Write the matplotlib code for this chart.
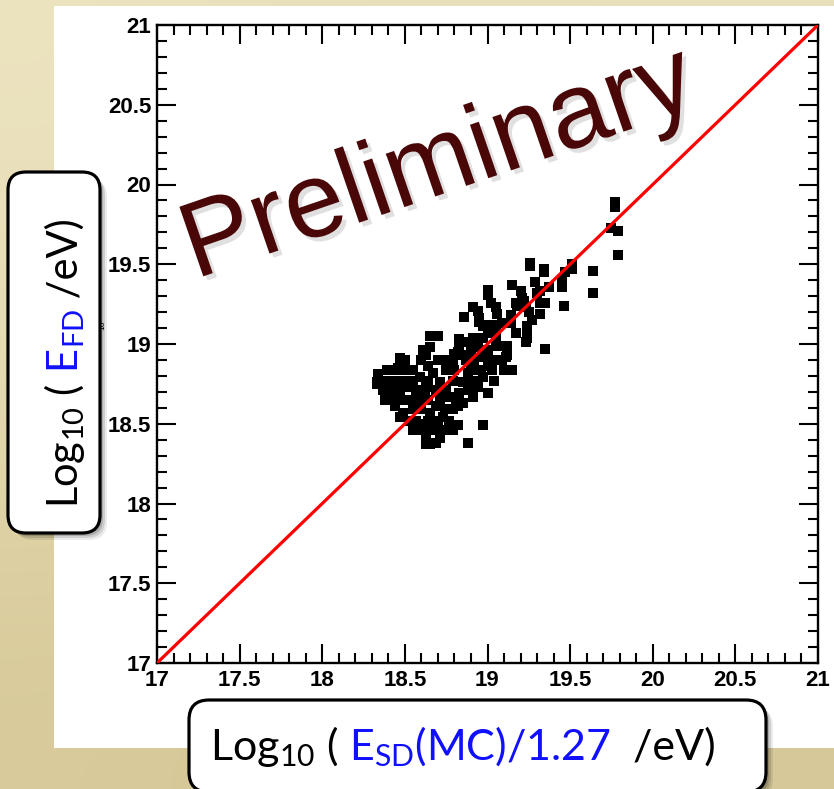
import matplotlib
matplotlib.use('Agg')
import matplotlib.pyplot as plt
import numpy as np
import matplotlib.patheffects as pe
from matplotlib.patches import FancyBboxPatch, Rectangle
from matplotlib.transforms import IdentityTransform
from matplotlib.ticker import MultipleLocator, FuncFormatter

plt.rcParams['font.family'] = ['Liberation Sans', 'DejaVu Sans']
plt.rcParams['font.weight'] = 'bold'
plt.rcParams['mathtext.fontset'] = 'custom'
plt.rcParams['mathtext.rm'] = 'Lato'
plt.rcParams['mathtext.it'] = 'Lato:italic'
plt.rcParams['mathtext.bf'] = 'Lato:bold'
plt.rcParams['mathtext.default'] = 'regular'

# log10 energies: SD (MC, scaled by 1/1.27) vs FD
sd_energy = [
    # upper tail
    19.77, 19.77, 19.75, 19.79, 19.79, 19.64, 19.64, 19.51, 19.51, 19.47,
    19.45, 19.45, 19.46, 19.26, 19.26, 19.34, 19.34, 19.29, 19.37, 19.32,
    19.35, 19.15, 19.20, 19.21, 19.17, 19.23, 19.25, 19.32, 19.27, 19.24,
    19.17, 19.23, 19.35, 19.12, 19.12, 19.06, 19.00, 19.00, 19.02, 19.05,
    19.06, 19.14, 18.91, 18.94, 18.86, 18.95, 18.97, 19.03, 19.00, 19.09,
    19.14, 19.05, 18.91, 18.88, 18.97, 18.83, 18.80, 18.85, 18.75, 18.78,
    18.94, 18.97, 19.00, 18.91,
    19.22, 19.18, 19.30, 19.32, 19.24, 19.24, 19.05, 18.95, 18.99,
    # core and lower edge
    18.65, 18.70, 18.65, 18.63, 18.47, 18.47, 18.39, 18.34, 18.33, 18.37,
    19.11, 18.97, 18.88, 18.82, 18.79, 18.63, 18.69, 19.00, 19.00, 18.97,
    18.94, 18.91,
    18.64, 18.46, 18.34, 18.33, 18.39, 18.38, 18.43, 18.44, 18.47, 18.53,
    18.55, 18.63, 18.65, 18.49, 18.52, 18.59, 18.57, 18.51, 18.59, 18.63,
    18.67, 18.71, 18.75, 18.79, 18.82, 18.77, 18.69, 18.65, 18.73, 18.77,
    18.78, 18.82, 18.55, 18.49, 18.61, 18.70, 18.85, 18.83, 18.85, 18.88,
    18.83, 18.94, 19.05,
    18.61, 18.90, 19.00,
    18.50, 18.60, 18.70, 18.87, 18.92, 19.03, 19.09,
    18.44, 18.50, 18.55, 18.80, 18.90, 18.96, 19.03, 19.10, 19.15,
    18.38, 18.43, 18.55, 18.64, 18.79, 18.91, 19.04,
    18.42, 18.47, 18.62, 18.69, 18.75, 18.88,
    18.45, 18.55, 18.64, 18.71, 18.81,
    18.60, 18.74, 18.79,
    18.57, 18.64, 18.68,
    18.60, 18.67, 18.72,
    18.63, 18.71,
]
fd_energy = [
    19.89, 19.86, 19.73, 19.71, 19.56, 19.46, 19.32, 19.50, 19.47, 19.45,
    19.40, 19.36, 19.24, 19.51, 19.49, 19.47, 19.45, 19.39, 19.36, 19.33,
    19.26, 19.37, 19.33, 19.29, 19.26, 19.23, 19.20, 19.19, 19.15, 19.11,
    19.07, 19.01, 18.97, 18.99, 18.93, 18.99, 19.34, 19.31, 19.26, 19.23,
    19.19, 19.18, 19.23, 19.21, 19.17, 19.16, 19.11, 19.12, 19.07, 19.13,
    19.13, 19.09, 19.04, 19.01, 19.04, 18.97, 18.94, 18.93, 18.90, 18.88,
    18.98, 18.92, 18.87, 18.88,
    19.27, 19.24, 19.32, 19.26, 19.10, 19.04, 19.01, 19.14, 19.12,
    19.05, 19.05, 18.98, 18.93, 18.91, 18.88, 18.84, 18.80, 18.75, 18.71,
    18.92, 18.49, 18.38, 18.49, 18.46, 18.37, 18.38, 18.69, 18.86, 18.79,
    18.73, 18.67,
    18.86, 18.85, 18.81, 18.76, 18.71, 18.65, 18.67, 18.61, 18.54, 18.52,
    18.46, 18.44, 18.37, 18.77, 18.73, 18.79, 18.71, 18.65, 18.65, 18.73,
    18.82, 18.76, 18.84, 18.90, 18.95, 18.67, 18.61, 18.57, 18.54, 18.52,
    18.46, 18.61, 18.59, 18.57, 18.50, 18.48, 18.63, 18.69, 18.76, 18.82,
    19.03, 19.03, 19.03,
    18.96, 18.96, 18.96,
    18.90, 18.90, 18.90, 18.90, 18.90, 18.90, 18.90,
    18.84, 18.84, 18.84, 18.84, 18.84, 18.84, 18.84, 18.84, 18.84,
    18.77, 18.77, 18.77, 18.77, 18.77, 18.77, 18.77,
    18.71, 18.71, 18.71, 18.71, 18.71, 18.71,
    18.65, 18.65, 18.65, 18.65, 18.65,
    18.59, 18.59, 18.59,
    18.52, 18.52, 18.52,
    18.46, 18.46, 18.46,
    18.41, 18.41,
]
diag = [17, 21]
ticks_major = 0.5
ticks_minor = 0.1

W, H = 834, 789
fig = plt.figure(figsize=(W / 100, H / 100), dpi=100)

# parchment background
bg = fig.add_axes([0, 0, 1, 1], zorder=-10)
parchment = np.array([
    [[236, 227, 192], [232, 222, 185], [234, 224, 188]],
    [[228, 216, 175], [226, 214, 172], [230, 219, 180]],
    [[216, 202, 154], [210, 195, 146], [214, 200, 152]],
]) / 255
bg.imshow(parchment, aspect='auto', interpolation='bicubic', extent=[0, 1, 0, 1])
bg.axis('off')

# white slide panel
fig.add_artist(Rectangle((54, H - 748), 780, 742, transform=IdentityTransform(),
                         facecolor='white', edgecolor='none', zorder=-5))

ax = fig.add_axes([157 / W, 1 - 663 / H, (818 - 157) / W, (663 - 25) / H])
ax.scatter(sd_energy, fd_energy, marker='s', s=46, c='black', linewidths=0, zorder=2)
ax.plot(diag, diag, color='red', lw=2.3, zorder=3)
ax.set_xlim(17, 21)
ax.set_ylim(17, 21)

for axis in (ax.xaxis, ax.yaxis):
    axis.set_major_locator(MultipleLocator(ticks_major))
    axis.set_minor_locator(MultipleLocator(ticks_minor))
    axis.set_major_formatter(FuncFormatter(lambda v, _: f'{v:g}'))
ax.tick_params(which='both', direction='in', top=True, right=True, width=1.5,
               labelsize=16, colors='black')
ax.tick_params(which='major', length=14)
ax.tick_params(which='minor', length=7.5)
ax.tick_params(axis='x', pad=5)
ax.tick_params(axis='y', pad=4)
for sp in ax.spines.values():
    sp.set_linewidth(1.7)

# leftover of the hidden axis title
fig.text(103, H - 325, '10', transform=IdentityTransform(), rotation=90,
         fontsize=6, fontweight='normal', ha='center', va='center')

ax.text(0.440, 0.738, 'Preliminary', transform=ax.transAxes, rotation=19,
        rotation_mode='anchor', ha='center', va='baseline', fontsize=77,
        fontweight='normal', color='#4a0707', zorder=6,
        path_effects=[pe.SimplePatchShadow(offset=(3, -3), shadow_rgbFace='black', alpha=0.12),
                      pe.Normal()])


def rounded_box(x0, y0, w, h, r):
    for k, a in ((7, 0.08), (5, 0.12), (3, 0.16)):
        fig.add_artist(FancyBboxPatch((x0 + k, y0 - k), w, h,
                                      boxstyle=f'round,pad=0,rounding_size={r}',
                                      transform=IdentityTransform(), facecolor='black',
                                      edgecolor='none', alpha=a, zorder=4))
    fig.add_artist(FancyBboxPatch((x0, y0), w, h,
                                  boxstyle=f'round,pad=0,rounding_size={r}',
                                  transform=IdentityTransform(), facecolor='white',
                                  edgecolor='black', lw=2.3, zorder=5))


def label_parts(parts, cx, cy, size, rotation=0):
    renderer = fig.canvas.get_renderer()
    texts = []
    total = 0
    for s, c in parts:
        t = fig.text(0, 0, s, transform=IdentityTransform(), color=c, fontsize=size,
                     family='Lato', fontweight='normal', rotation=rotation,
                     rotation_mode='anchor', ha='left', va='baseline', zorder=7)
        bb = t.get_window_extent(renderer)
        step = bb.width if rotation == 0 else bb.height
        texts.append((t, step))
        total += step
    pos = (cx - total / 2) if rotation == 0 else (cy - total / 2)
    for t, step in texts:
        t.set_position((pos, cy) if rotation == 0 else (cx, pos))
        pos += step


blue = '#1010ff'
rounded_box(8, H - 533, 92, 361, 18)
label_parts([('Log$_{10}$ (', 'black'), (' E$_{FD}$', blue), (' /eV)', 'black')],
            78, H - 363, 30, rotation=90)

rounded_box(189, H - 792, 577, 92, 20)
label_parts([('Log$_{10}$ (', 'black'), (' E$_{SD}$(MC)/1.27', blue), ('  /eV)', 'black')],
            463, H - 760, 31)

fig.savefig('out.png', dpi=100)
